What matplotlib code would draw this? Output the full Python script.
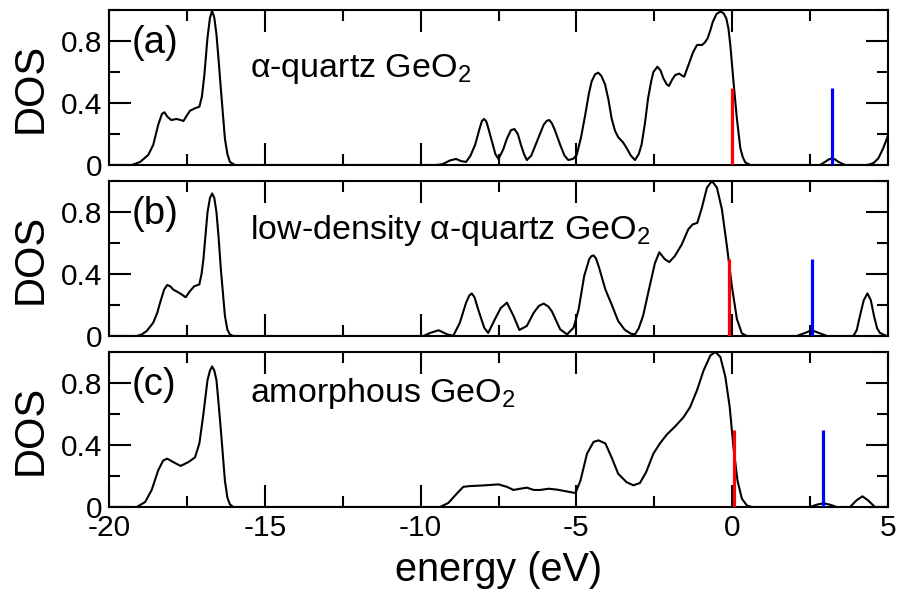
import matplotlib
matplotlib.use("Agg")
import matplotlib.pyplot as plt
from matplotlib.ticker import MultipleLocator, FuncFormatter

plt.rcParams['font.family'] = ['Liberation Sans', 'DejaVu Sans']
plt.rcParams['mathtext.fontset'] = 'custom'
plt.rcParams['mathtext.rm'] = 'Liberation Sans'
plt.rcParams['axes.unicode_minus'] = False

# (a) alpha-quartz GeO2
energy_a = [-20, -19.27, -19.0, -18.74, -18.58, -18.42, -18.30, -18.22, -18.12, -18.00,
            -17.83, -17.70, -17.61, -17.50, -17.40, -17.24, -17.10, -17.02, -16.94, -16.84,
            -16.76, -16.69, -16.62, -16.55, -16.48, -16.41, -16.28, -16.20, -16.12, -15.96,
            -9.5, -9.3, -9.05, -8.86, -8.70, -8.54, -8.40, -8.25, -8.10, -8.03, -7.96,
            -7.89, -7.83, -7.71, -7.60, -7.50, -7.35, -7.23, -7.10, -6.99, -6.88, -6.78,
            -6.68, -6.59, -6.45, -6.27, -6.05, -5.95, -5.87, -5.79, -5.70, -5.52, -5.38, -5.26,
            -5.10, -4.99, -4.85, -4.72, -4.60, -4.51, -4.40, -4.30, -4.20, -4.08,
            -3.97, -3.87, -3.76, -3.66, -3.50, -3.39, -3.25, -3.12, -3.00, -2.91,
            -2.80, -2.70, -2.60, -2.53, -2.40, -2.30, -2.21, -2.10, -2.03, -1.93,
            -1.83, -1.70, -1.60, -1.54, -1.45, -1.35, -1.25, -1.13, -1.05, -0.97,
            -0.88, -0.79, -0.70, -0.62, -0.50, -0.38, -0.28, -0.19, -0.12, -0.06,
            0.04, 0.15, 0.26, 0.34, 0.42, 0.58, 2.82, 2.98, 3.10, 3.20,
            3.30, 3.41, 3.62, 4.30, 4.42, 4.55, 4.69, 4.85, 5.00]
dos_a = [0, 0, 0.02, 0.065, 0.13, 0.26, 0.33, 0.34, 0.31, 0.29,
         0.297, 0.29, 0.284, 0.32, 0.35, 0.366, 0.376, 0.44, 0.58, 0.82,
         0.95, 0.995, 0.95, 0.84, 0.67, 0.49, 0.17, 0.07, 0.02, 0,
         0, 0.005, 0.03, 0.039, 0.025, 0.02, 0.06, 0.13, 0.24, 0.285, 0.297,
         0.28, 0.24, 0.15, 0.07, 0.039, 0.10, 0.17, 0.225, 0.232, 0.20, 0.13,
         0.07, 0.032, 0.06, 0.15, 0.26, 0.285, 0.29, 0.27, 0.23, 0.13, 0.06, 0.032,
         0.04, 0.065, 0.18, 0.32, 0.46, 0.54, 0.585, 0.596, 0.575, 0.52,
         0.42, 0.30, 0.22, 0.18, 0.145, 0.11, 0.06, 0.032, 0.07, 0.13,
         0.27, 0.43, 0.54, 0.60, 0.634, 0.61, 0.56, 0.52, 0.51, 0.55,
         0.58, 0.59, 0.575, 0.57, 0.62, 0.677, 0.73, 0.774, 0.775, 0.774,
         0.79, 0.817, 0.87, 0.925, 0.975, 0.99, 0.98, 0.946, 0.88, 0.774,
         0.54, 0.30, 0.11, 0.05, 0.017, 0, 0, 0.02, 0.036, 0.043,
         0.036, 0.02, 0, 0, 0.004, 0.015, 0.043, 0.11, 0.19]

# (b) low-density alpha-quartz GeO2
energy_b = [-20, -19.11, -18.95, -18.79, -18.58, -18.45, -18.36, -18.23, -18.13, -18.03,
            -17.94, -17.72, -17.54, -17.40, -17.27, -17.10, -17.03, -16.97, -16.84, -16.76,
            -16.69, -16.62, -16.55, -16.48, -16.41, -16.28, -16.20, -16.12, -16.01,
            -9.91, -9.69, -9.42, -9.14, -8.95, -8.74, -8.54, -8.44, -8.36, -8.27, -8.15, -7.96,
            -7.83, -7.61, -7.43, -7.23, -7.02, -6.83, -6.59, -6.37, -6.20, -6.05,
            -5.90, -5.79, -5.52, -5.30, -5.09, -4.93, -4.75, -4.59, -4.52, -4.45, -4.37, -4.27,
            -4.07, -3.87, -3.66, -3.45, -3.25, -3.12, -3.00, -2.86, -2.65, -2.48,
            -2.34, -2.16, -2.02, -1.84, -1.62, -1.41, -1.27, -1.12, -0.97, -0.81,
            -0.65, -0.49, -0.33, -0.17, -0.01, 0.15, 0.31, 0.47, 2.07, 2.34,
            2.55, 2.82, 3.04, 3.89, 4.00, 4.10, 4.22, 4.34, 4.45, 4.55,
            4.65, 4.74, 4.96, 5.0]
dos_b = [0, 0, 0.01, 0.032, 0.086, 0.15, 0.215, 0.30, 0.329, 0.32,
         0.30, 0.275, 0.25, 0.29, 0.32, 0.333, 0.40, 0.495, 0.796, 0.89,
         0.92, 0.89, 0.796, 0.63, 0.43, 0.13, 0.04, 0.01, 0,
         0, 0.02, 0.037, 0.01, 0.002, 0.086, 0.215, 0.26, 0.275, 0.25, 0.17, 0.054,
         0.02, 0.11, 0.18, 0.215, 0.13, 0.039, 0.065, 0.15, 0.195, 0.209,
         0.19, 0.16, 0.043, 0.01, 0.054, 0.17, 0.387, 0.495, 0.515, 0.52, 0.50, 0.44,
         0.30, 0.204, 0.097, 0.04, 0.015, 0.01, 0.05, 0.13, 0.32, 0.47,
         0.54, 0.495, 0.477, 0.516, 0.59, 0.688, 0.72, 0.73, 0.83, 0.957,
         1.0, 0.957, 0.817, 0.58, 0.32, 0.11, 0.017, 0, 0, 0.02,
         0.037, 0.017, 0, 0, 0.04, 0.13, 0.23, 0.275, 0.23, 0.13,
         0.05, 0.02, 0, 0]

# (c) amorphous GeO2
energy_c = [-20, -19.11, -18.84, -18.63, -18.42, -18.26, -18.13, -17.94, -17.70, -17.45,
            -17.24, -17.10, -16.97, -16.84, -16.76, -16.69, -16.62, -16.55, -16.48, -16.41,
            -16.28, -16.20, -16.12, -16.01,
            -9.38, -9.11, -8.84, -8.63, -8.42, -8.09, -7.77, -7.50, -7.23, -7.02,
            -6.80, -6.59, -6.37, -6.16, -5.89, -5.62, -5.30, -5.03, -4.87, -4.66,
            -4.45, -4.29, -4.07, -3.87, -3.66, -3.39, -3.17, -2.96, -2.76, -2.53,
            -2.32, -2.10, -1.83, -1.56, -1.35, -1.13, -0.92, -0.70, -0.54, -0.38,
            -0.22, -0.08, 0.04, 0.17, 0.31, 0.47, 0.63, 2.50, 2.71, 2.93,
            3.14, 3.35, 3.78, 3.99, 4.18, 4.36, 4.58, 5.0]
dos_c = [0, 0, 0.032, 0.11, 0.237, 0.30, 0.312, 0.29, 0.265, 0.29,
         0.32, 0.41, 0.60, 0.817, 0.88, 0.907, 0.88, 0.817, 0.66, 0.495,
         0.17, 0.06, 0.017, 0,
         0, 0.026, 0.086, 0.13, 0.135, 0.138, 0.142, 0.146, 0.13, 0.11,
         0.118, 0.125, 0.11, 0.11, 0.118, 0.112, 0.10, 0.09, 0.17, 0.344,
         0.42, 0.43, 0.41, 0.32, 0.215, 0.16, 0.14, 0.155, 0.226, 0.344,
         0.41, 0.467, 0.52, 0.58, 0.645, 0.753, 0.88, 0.978, 1.0, 0.968,
         0.84, 0.645, 0.387, 0.17, 0.054, 0.01, 0, 0, 0.015, 0.024,
         0.015, 0, 0, 0.043, 0.069, 0.043, 0, 0]

panel_tags = ["(a)", "(b)", "(c)"]
panel_titles = ["α-quartz GeO$_2$",
                "low-density α-quartz GeO$_2$",
                "amorphous GeO$_2$"]
# band-edge markers: valence-band top (red) and conduction-band bottom (blue)
vbm = [0.0, -0.1, 0.05]
cbm = [3.2, 2.55, 2.92]
edge_height = 0.5

series = [(energy_a, dos_a), (energy_b, dos_b), (energy_c, dos_c)]
title_y = [0.57, 0.626, 0.677]

W, H = 897, 595
fig = plt.figure(figsize=(W / 100, H / 100), dpi=100)
left, right = 109 / W, 888 / W
tops = [10, 181, 352]
height_px = 155

for i, (x, y) in enumerate(series):
    top = tops[i]
    ax = fig.add_axes([left, 1 - (top + height_px) / H, right - left, height_px / H])
    ax.plot(x, y, color='black', lw=1.5, zorder=2)
    ax.vlines(vbm[i], 0, edge_height, color='#ff0000', lw=2.3, zorder=3)
    ax.vlines(cbm[i], 0, edge_height, color='#0000ff', lw=2.3, zorder=3)
    ax.set_xlim(-20, 5)
    ax.set_ylim(0, 1)
    ax.xaxis.set_major_locator(MultipleLocator(5))
    ax.xaxis.set_minor_locator(MultipleLocator(2.5))
    ax.yaxis.set_major_locator(MultipleLocator(0.4))
    ax.yaxis.set_minor_locator(MultipleLocator(0.2))
    ax.yaxis.set_major_formatter(FuncFormatter(lambda v, p: '0' if abs(v) < 1e-9 else f'{v:g}'))
    ax.tick_params(which='both', direction='in', top=True, right=True, width=1.5)
    ax.tick_params(which='major', length=16, labelsize=21.5, pad=5)
    ax.tick_params(which='minor', length=8)
    for s in ax.spines.values():
        s.set_linewidth(1.5)
    if i < 2:
        ax.tick_params(labelbottom=False)
    ax.text(-19.26, 0.79, panel_tags[i], fontsize=27.5, ha='left', va='center')
    ax.text(-15.47, title_y[i], panel_titles[i], fontsize=24.5, ha='left', va='baseline')
    # y-axis title, baseline on the right of the rotated text
    fig.text(42 / W, 1 - (top + height_px / 2) / H, 'DOS', fontsize=30,
             rotation=90, rotation_mode='anchor', ha='center', va='baseline')

fig.text((left + right) / 2, 1 - 581 / H, 'energy (eV)', fontsize=28.5,
         ha='center', va='baseline')

fig.savefig('out.png', dpi=100)
